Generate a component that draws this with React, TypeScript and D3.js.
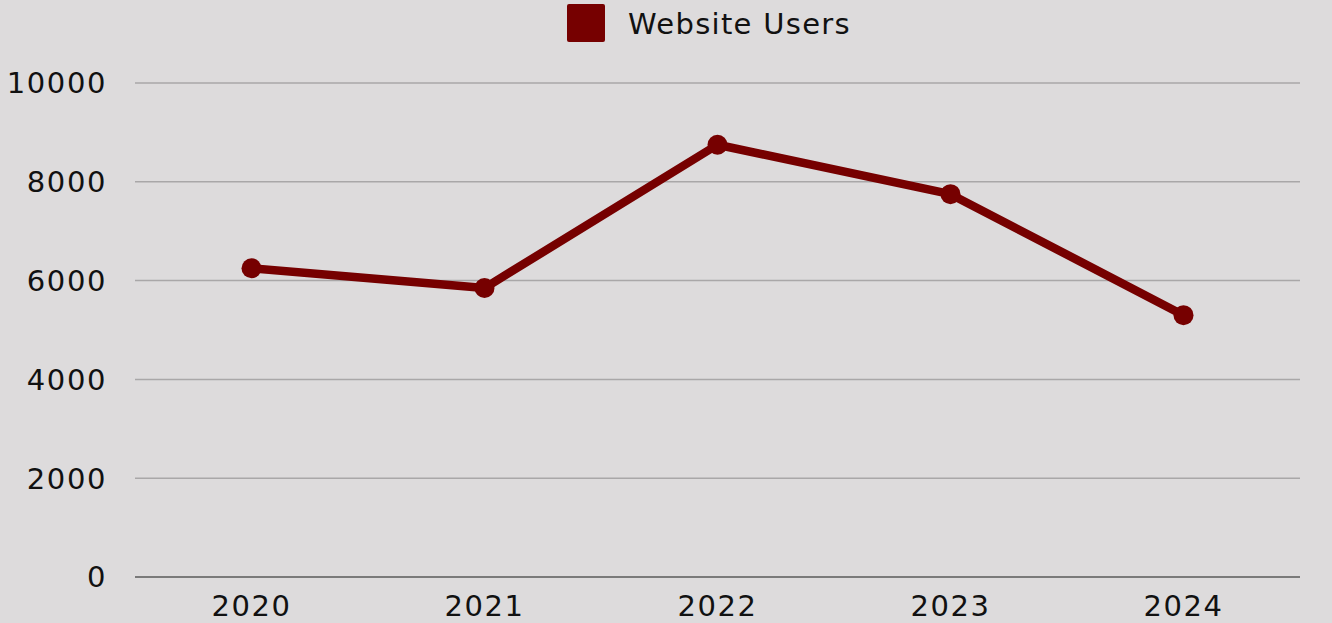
import React from "react";
import * as d3 from "d3";

const years = ["2020", "2021", "2022", "2023", "2024"];
const users = [6250, 5850, 8750, 7750, 5300];
const yTicks = [0, 2000, 4000, 6000, 8000, 10000];
const seriesName = "Website Users";

const W = 1332;
const H = 623;
const color = "#760000";
const font = "'DejaVu Sans', sans-serif";

export default function App() {
  const x = d3.scaleBand<string>().domain(years).range([135, 1300]);
  const y = d3.scaleLinear().domain([0, 10000]).range([577, 83]);
  const cx = (i: number) => (x(years[i]) as number) + x.bandwidth() / 2;
  const line = d3
    .line<number>()
    .x((_, i) => cx(i))
    .y((d) => y(d));

  return (
    <svg
      width={W}
      height={H}
      style={{ position: "absolute", left: 0, top: 0, background: "#dddbdc" }}
    >
      <rect x={0} y={0} width={W} height={H} fill="#dddbdc" />
      {yTicks.map((t) => (
        <g key={t}>
          <line
            x1={135}
            x2={1300}
            y1={y(t)}
            y2={y(t)}
            stroke={t === 0 ? "#7a7a7a" : "#a9a7a8"}
            strokeWidth={t === 0 ? 2 : 1.5}
          />
          <text
            x={107}
            y={y(t)}
            dy="0.36em"
            textAnchor="end"
            fontFamily={font}
            fontSize={29}
            letterSpacing={1.6}
            fill="#111"
          >
            {t}
          </text>
        </g>
      ))}
      {years.map((yr, i) => (
        <text
          key={yr}
          x={cx(i)}
          y={616}
          textAnchor="middle"
          fontFamily={font}
          fontSize={29}
          letterSpacing={1.6}
          fill="#111"
        >
          {yr}
        </text>
      ))}
      <path
        d={line(users) || ""}
        fill="none"
        stroke={color}
        strokeWidth={8.5}
        strokeLinejoin="round"
      />
      {users.map((v, i) => (
        <circle key={i} cx={cx(i)} cy={y(v)} r={10} fill={color} />
      ))}
      <rect x={567} y={4} width={38} height={38} rx={2} fill={color} />
      <text
        x={628}
        y={34}
        fontFamily={font}
        fontSize={29}
        letterSpacing={1.3}
        fill="#111"
      >
        {seriesName}
      </text>
    </svg>
  );
}
